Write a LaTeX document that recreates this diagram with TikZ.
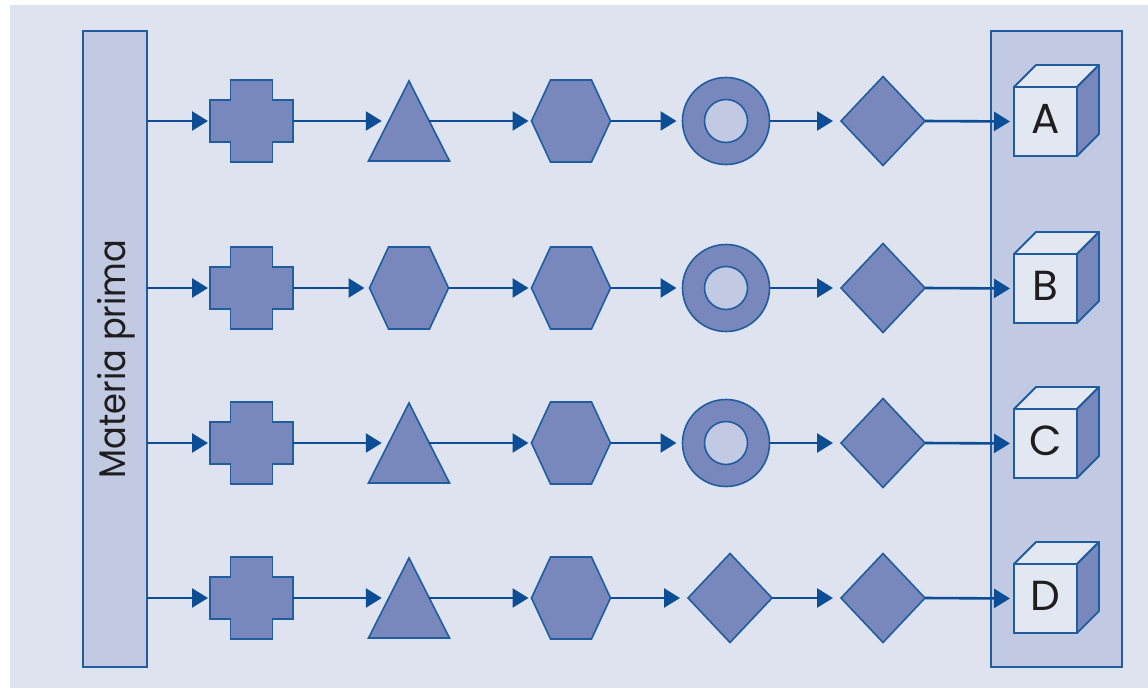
\documentclass[tikz,border=0pt]{standalone}
\usepackage{fontspec}
\setmainfont{Poppins}
\usetikzlibrary{arrows.meta,shapes.geometric}
\definecolor{bg}{HTML}{DEE3EF}
\definecolor{panel}{HTML}{C2C9E3}
\definecolor{shapefill}{HTML}{7888BC}
\definecolor{edge}{HTML}{1F5CA0}
\definecolor{flowcol}{HTML}{0B4E95}
\definecolor{face}{HTML}{E3E7F2}
\definecolor{ink}{HTML}{1E1E1E}
\tikzset{
  shp/.style={draw=edge, fill=shapefill, line width=1.6pt, line join=miter},
  anch/.style={inner sep=0pt, outer sep=0pt},
  panelbox/.style={draw=edge, fill=panel, line width=2pt, inner sep=0pt, outer sep=0pt},
  cubefront/.style={draw=edge, fill=face, line width=1.8pt, inner sep=0pt, outer sep=0pt,
    minimum width=63, minimum height=69, text=ink, font=\fontsize{42}{42}\selectfont,
    text height=30pt, text depth=7pt},
  cubeside/.style={draw=edge, line width=1.8pt, line join=round},
  flow/.style={-{Triangle[length=16pt,width=19pt]}, draw=flowcol, line width=2.6pt, shorten >=#1},
  flow/.default=3pt
}
\newcommand\mkcross[2]{%
  \node[anch, minimum width=83, minimum height=82] (#1) at (#2) {};
  \draw[shp, shift={(#1.center)}] (-21,-41) -- (21,-41) -- (21,-21) -- (41.5,-21) -- (41.5,21)
    -- (21,21) -- (21,41) -- (-21,41) -- (-21,21) -- (-41.5,21) -- (-41.5,-21) -- (-21,-21) -- cycle;}
\newcommand\mktri[2]{%
  \node[anch, minimum width=40.5, minimum height=80] (#1) at (#2) {};
  \draw[shp, shift={(#1.center)}] (0,-40) -- (40.5,40) -- (-40.5,40) -- cycle;}
\newcommand\mkhex[2]{%
  \node[anch, minimum width=79, minimum height=82] (#1) at (#2) {};
  \draw[shp, shift={(#1.center)}] (-39.5,0) -- (-20.5,-41) -- (20.5,-41) -- (39.5,0)
    -- (20.5,41) -- (-20.5,41) -- cycle;}
\newcommand\mkring[2]{%
  \node[shp, circle, anch, minimum size=87] (#1) at (#2) {};
  \draw[shp, fill=panel] (#1.center) circle[radius=21.5pt];}
\newcommand\mkdiam[2]{%
  \node[shp, diamond, anch, minimum width=84, minimum height=89] (#1) at (#2) {};}
\newcommand\mkcube[3]{%
  \node[cubefront] (#1) at (#2) {#3};
  \draw[cubeside, fill=face] (#1.north west) -- ++(22,-22) -- ++(63,0) -- (#1.north east) -- cycle;
  \draw[cubeside, fill=shapefill] (#1.north east) -- ++(22,-22) -- ++(0,69) -- (#1.south east) -- cycle;}
\begin{document}
\begin{tikzpicture}[x=1pt, y=-1pt]
\useasboundingbox (0,0) rectangle (1148,688);
\fill[white] (0,0) rectangle (1148,688);
\fill[bg] (10,5) rectangle (1148,688);
% side panels
\node[panelbox, minimum width=64, minimum height=636] (mp) at (115,349) {};
\node[rotate=90, anchor=base, text=ink, font=\fontsize{37}{37}\selectfont] (mplabel) at (125,359) {\scalebox{0.91}[1]{Materia prima}};
\node[panelbox, minimum width=131, minimum height=636] (out) at (1056.5,349) {};
% row 1
\mkcross{a1}{251.5,121}
\mktri{a2}{409,121}
\mkhex{a3}{571,121}
\mkring{a4}{726,121}
\mkdiam{a5}{883,121}
\mkcube{A}{1045.5,121.5}{A}
% row 2
\mkcross{b1}{251.5,288}
\mkhex{b2}{409,288}
\mkhex{b3}{571,288}
\mkring{b4}{726,288}
\mkdiam{b5}{883,288}
\mkcube{B}{1045.5,288.5}{B}
% row 3
\mkcross{c1}{251.5,443}
\mktri{c2}{409,443}
\mkhex{c3}{571,443}
\mkring{c4}{726,443}
\mkdiam{c5}{883,443}
\mkcube{C}{1045.5,443.5}{C}
% row 4
\mkcross{d1}{251.5,598}
\mktri{d2}{409,598}
\mkhex{d3}{571,598}
\mkdiam{d4}{730,598}
\mkdiam{d5}{883,598}
\mkcube{D}{1045.5,598.5}{D}
% connectors
\draw[flow=2pt] (mp.east |- a1.west) -- (a1.west);
\draw[flow=7pt] (a1.east) -- (a2.west);
\draw[flow=3pt] (a2.east) -- (a3.west);
\draw[flow=6pt] (a3.east) -- (a4.west);
\draw[flow=8pt] (a4.east) -- (a5.west);
\draw[flow=4pt] (a5.east) -- (A.west);
\draw[flow=2pt] (mp.east |- b1.west) -- (b1.west);
\draw[flow=5pt] (b1.east) -- (b2.west);
\draw[flow=3pt] (b2.east) -- (b3.west);
\draw[flow=6pt] (b3.east) -- (b4.west);
\draw[flow=8pt] (b4.east) -- (b5.west);
\draw[flow=4pt] (b5.east) -- (B.west);
\draw[flow=2pt] (mp.east |- c1.west) -- (c1.west);
\draw[flow=7pt] (c1.east) -- (c2.west);
\draw[flow=3pt] (c2.east) -- (c3.west);
\draw[flow=6pt] (c3.east) -- (c4.west);
\draw[flow=8pt] (c4.east) -- (c5.west);
\draw[flow=4pt] (c5.east) -- (C.west);
\draw[flow=2pt] (mp.east |- d1.west) -- (d1.west);
\draw[flow=7pt] (d1.east) -- (d2.west);
\draw[flow=3pt] (d2.east) -- (d3.west);
\draw[flow=8pt] (d3.east) -- (d4.west);
\draw[flow=8pt] (d4.east) -- (d5.west);
\draw[flow=4pt] (d5.east) -- (D.west);
\end{tikzpicture}
\end{document}
